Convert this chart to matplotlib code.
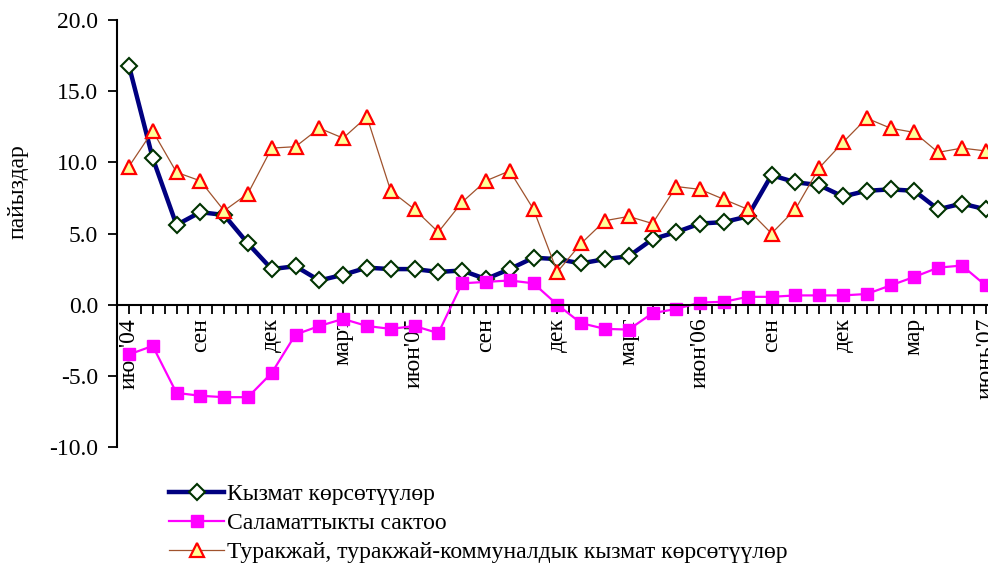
import numpy as np
import matplotlib
matplotlib.use("Agg")
import matplotlib.pyplot as plt
from matplotlib.ticker import FixedLocator, FormatStrFormatter

plt.rcParams['font.family'] = ['Liberation Serif', 'DejaVu Serif']

months = ["июн'04", "", "", "сен", "", "", "дек", "", "", "март", "", "",
          "июн'05", "", "", "сен", "", "", "дек", "", "", "март", "", "",
          "июн'06", "", "", "сен", "", "", "дек", "", "", "мар", "", "",
          "июнь'07"]

services = [16.8, 10.3, 5.6, 6.5, 6.3, 4.3, 2.5, 2.7, 1.7, 2.1, 2.6, 2.5,
            2.5, 2.3, 2.4, 1.8, 2.5, 3.3, 3.2, 2.9, 3.2, 3.4, 4.6, 5.1,
            5.7, 5.8, 6.2, 9.1, 8.6, 8.4, 7.6, 8.0, 8.1, 8.0, 6.7, 7.1, 6.7]

health = [-3.5, -2.9, -6.2, -6.4, -6.5, -6.5, -4.8, -2.1, -1.5, -1.0, -1.5, -1.7,
          -1.5, -2.0, 1.5, 1.6, 1.7, 1.5, 0.0, -1.3, -1.7, -1.75, -0.6, -0.3,
          0.15, 0.2, 0.55, 0.55, 0.65, 0.65, 0.65, 0.75, 1.35, 1.95, 2.6, 2.75, 1.35]

housing = [9.7, 12.2, 9.3, 8.7, 6.6, 7.8, 11.0, 11.1, 12.4, 11.7, 13.2, 8.0,
           6.7, 5.1, 7.2, 8.7, 9.4, 6.7, 2.3, 4.3, 5.9, 6.2, 5.7, 8.3,
           8.1, 7.4, 6.7, 5.0, 6.7, 9.6, 11.4, 13.1, 12.4, 12.1, 10.7, 11.0, 10.8]

labels = ["Кызмат көрсөтүүлөр", "Саламаттыкты сактоо",
          "Туракжай, туракжай-коммуналдык кызмат көрсөтүүлөр"]

fs = 17

fig = plt.figure(figsize=(9.88, 5.7), dpi=100)
ax = fig.add_axes([117 / 988, 1 - 447 / 570, 880.6 / 988, 427 / 570])

x = np.arange(len(months))
l1, = ax.plot(x, services, color='#000080', linewidth=3.2, marker='D', markersize=8,
              markerfacecolor='white', markeredgecolor='#003300', markeredgewidth=1.5)
l2, = ax.plot(x, health, color='#FF00FF', linewidth=1.6, marker='s', markersize=9,
              markerfacecolor='#FF00FF', markeredgecolor='#FF00FF')
l3, = ax.plot(x, housing, color='#A0522D', linewidth=0.9, marker='^', markersize=10,
              markerfacecolor='#FFFF99', markeredgecolor='#FF0000', markeredgewidth=1.6)

ax.set_xlim(-0.5, 36.5)
ax.set_ylim(-10, 20)
ax.set_yticks(np.arange(-10, 20.1, 5))
ax.yaxis.set_major_formatter(FormatStrFormatter('%.1f'))

ax.spines['top'].set_visible(False)
ax.spines['right'].set_visible(False)
ax.spines['bottom'].set_position(('data', 0))
ax.spines['left'].set_linewidth(1.5)
ax.spines['bottom'].set_linewidth(1.5)

ax.xaxis.set_major_locator(FixedLocator(x[::3]))
ax.set_xticklabels([months[i] for i in x[::3]], rotation=90, va='top', ha='center')
ax.xaxis.set_minor_locator(FixedLocator(np.arange(-0.5, 36.6, 0.5)))
ax.tick_params(axis='x', which='both', direction='out', length=6.5, width=1.3,
               labelsize=fs, pad=3)
ax.tick_params(axis='y', direction='out', length=6.5, width=1.3, labelsize=fs, pad=7)

fig.text(18 / 988, 1 - 192 / 570, "пайыздар", rotation=90, ha='center', va='center',
         fontsize=fs)

fig.legend([l1, l2, l3], labels, loc='upper left', bbox_to_anchor=(160 / 988, 1 - 474 / 570),
           frameon=False, fontsize=fs, handlelength=2.3, handletextpad=0.15,
           labelspacing=0.32, borderaxespad=0)

fig.savefig('out.png', dpi=100)
